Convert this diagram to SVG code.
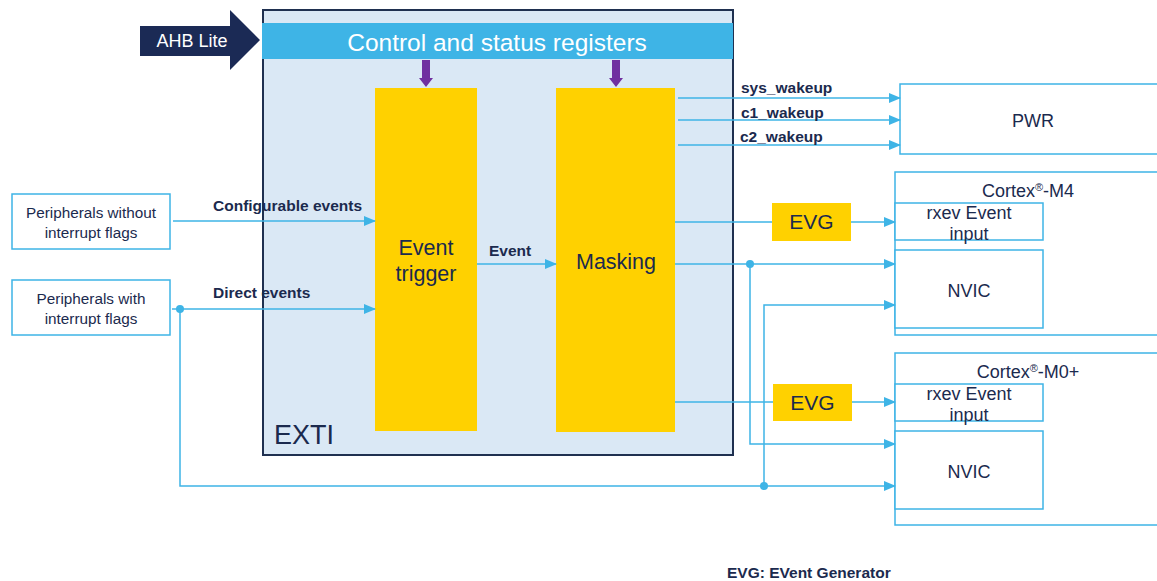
<svg xmlns="http://www.w3.org/2000/svg" width="1157" height="581" viewBox="0 0 1157 581">
<defs>
<style>
text{font-family:"Liberation Sans",Arial,sans-serif;fill:#1b2a4e}
.lbl{font-weight:bold;font-size:15.5px}
.box{fill:#ffffff;stroke:#3eb4e6;stroke-width:1.5}
.yel{fill:#ffd100}
.ln{stroke:#3eb4e6;stroke-width:1.5;fill:none}
.dot{fill:#3eb4e6}
.mid{text-anchor:middle}
</style>
<marker id="ah" markerWidth="12" markerHeight="10" refX="11" refY="5" orient="auto" markerUnits="userSpaceOnUse">
<path d="M0,0 L12,5 L0,10 Z" fill="#3eb4e6"/>
</marker>
</defs>
<rect width="1157" height="581" fill="#ffffff"/>

<g id="exti">
<rect x="263" y="10" width="470" height="445" fill="#dae8f5" stroke="#1f3050" stroke-width="2"/>
<text x="274" y="444" font-size="27">EXTI</text>
</g>

<g id="ahb">
<path d="M140,26 L230,26 L230,10 L260,40 L230,70 L230,56 L140,56 Z" fill="#1b2a55"/>
<text x="192" y="47" font-size="18" class="mid" style="fill:#ffffff">AHB Lite</text>
</g>

<g id="csr">
<rect x="262" y="23" width="471" height="36" fill="#3eb4e6"/>
<text x="497" y="51" font-size="24.5" class="mid" style="fill:#ffffff">Control and status registers</text>
<path d="M422,60 L430,60 L430,78 L433,78 L426,87 L419,78 L422,78 Z" fill="#7030a0"/>
<path d="M612,60 L620,60 L620,78 L623,78 L616,87 L609,78 L612,78 Z" fill="#7030a0"/>
</g>

<g id="trigger">
<rect x="375" y="88" width="102" height="343" class="yel"/>
<text x="426" y="255" font-size="21.5" class="mid">Event</text>
<text x="426" y="281" font-size="21.5" class="mid">trigger</text>
</g>

<g id="masking">
<rect x="556" y="88" width="119" height="344" class="yel"/>
<text x="616" y="269" font-size="21.5" class="mid">Masking</text>
</g>

<g id="periph1">
<rect x="12" y="194" width="158" height="55" class="box"/>
<text x="91" y="218" font-size="15.3" class="mid">Peripherals without</text>
<text x="91" y="238" font-size="15.3" class="mid">interrupt flags</text>
</g>

<g id="periph2">
<rect x="12" y="280" width="158" height="55" class="box"/>
<text x="91" y="304" font-size="15.3" class="mid">Peripherals with</text>
<text x="91" y="324" font-size="15.3" class="mid">interrupt flags</text>
</g>

<g id="pwr">
<rect x="900" y="84" width="262" height="70" class="box"/>
<text x="1033" y="127" font-size="18" class="mid">PWR</text>
</g>

<g id="m4">
<rect x="895" y="172" width="267" height="163" class="box"/>
<text x="1028" y="197" font-size="18" class="mid">Cortex<tspan font-size="11" dy="-6">®</tspan><tspan dy="6">-M4</tspan></text>
<rect x="895" y="203" width="148" height="37" class="box"/>
<text x="969" y="219" font-size="18" class="mid">rxev  Event</text>
<text x="969" y="240" font-size="18" class="mid">input</text>
<rect x="895" y="250" width="148" height="78" class="box"/>
<text x="969" y="297" font-size="18" class="mid">NVIC</text>
</g>

<g id="m0">
<rect x="895" y="353" width="267" height="172" class="box"/>
<text x="1028" y="378" font-size="18" class="mid">Cortex<tspan font-size="11" dy="-6">®</tspan><tspan dy="6">-M0+</tspan></text>
<rect x="895" y="384" width="148" height="37" class="box"/>
<text x="969" y="400" font-size="18" class="mid">rxev  Event</text>
<text x="969" y="421" font-size="18" class="mid">input</text>
<rect x="895" y="431" width="148" height="78" class="box"/>
<text x="969" y="478" font-size="18" class="mid">NVIC</text>
</g>

<g id="connectors">
<path class="ln" d="M678,98 L900,98" marker-end="url(#ah)"/>
<path class="ln" d="M678,120 L900,120" marker-end="url(#ah)"/>
<path class="ln" d="M678,145 L900,145" marker-end="url(#ah)"/>
<path class="ln" d="M173,221 L375,221" marker-end="url(#ah)"/>
<path class="ln" d="M172,309 L375,309" marker-end="url(#ah)"/>
<path class="ln" d="M477,264 L556,264" marker-end="url(#ah)"/>
<path class="ln" d="M675,222 L772,222"/>
<path class="ln" d="M851,222 L895,222" marker-end="url(#ah)"/>
<path class="ln" d="M675,264 L895,264" marker-end="url(#ah)"/>
<path class="ln" d="M764,486 L764,305 L895,305" marker-end="url(#ah)"/>
<path class="ln" d="M750,264 L750,444 L895,444" marker-end="url(#ah)"/>
<path class="ln" d="M675,402 L773,402"/>
<path class="ln" d="M852,402 L895,402" marker-end="url(#ah)"/>
<path class="ln" d="M180,309 L180,486 L895,486" marker-end="url(#ah)"/>
<circle cx="180" cy="309" r="4" class="dot"/>
<circle cx="750" cy="264" r="4" class="dot"/>
<circle cx="764" cy="486" r="4" class="dot"/>
</g>

<g id="evg1">
<rect x="772" y="203" width="79" height="38" class="yel"/>
<text x="811.5" y="229" font-size="21" class="mid">EVG</text>
</g>
<g id="evg2">
<rect x="773" y="384" width="79" height="37" class="yel"/>
<text x="812.5" y="410" font-size="21" class="mid">EVG</text>
</g>

<g id="labels">
<text x="741" y="93" class="lbl">sys_wakeup</text>
<text x="741" y="118" class="lbl">c1_wakeup</text>
<text x="740" y="142" class="lbl">c2_wakeup</text>
<text x="213" y="211" class="lbl">Configurable events</text>
<text x="213" y="298" class="lbl">Direct events</text>
<text x="489" y="256" class="lbl">Event</text>
<text x="727" y="578" class="lbl">EVG: EVent Generator</text>
</g>
</svg>
